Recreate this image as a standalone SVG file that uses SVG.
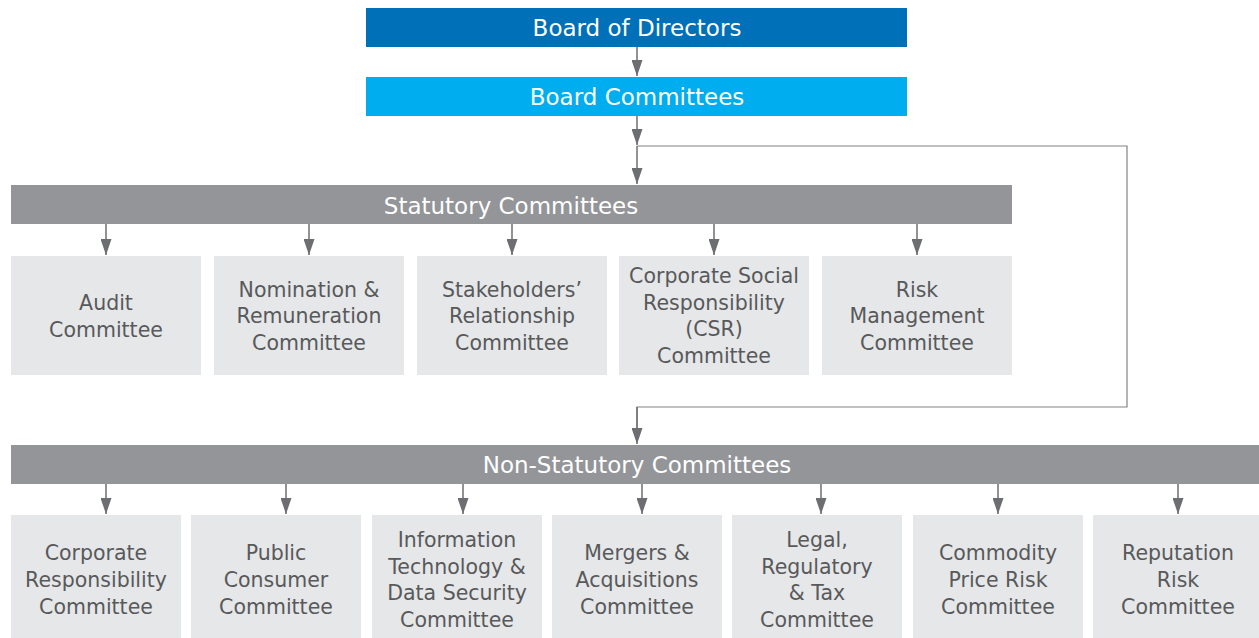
<svg xmlns="http://www.w3.org/2000/svg" width="1259" height="638" viewBox="0 0 1259 638">
<defs>
<marker id="ah" viewBox="0 0 16 11" refX="16" refY="5.5" markerWidth="16" markerHeight="11" markerUnits="userSpaceOnUse" orient="auto">
<path d="M0,0 L16,5.5 L0,11 z" fill="#6d6e71"/>
</marker>
</defs>
<style>
text{font-family:"DejaVu Sans","Liberation Sans",sans-serif;text-anchor:middle}
.t{fill:#ffffff;font-size:23px}
.b{fill:#58595b;font-size:20.5px}
.box{fill:#e6e7e8}
.bar{fill:#939598}
.arr{stroke:#6d6e71;stroke-width:1.5;fill:none;marker-end:url(#ah)}
.ln{stroke:#808285;stroke-width:1.2;fill:none}
</style>
<rect width="1259" height="638" fill="#ffffff"/>
<g id="connectors">
<line class="arr" x1="637" y1="47" x2="637" y2="76"/>
<line class="arr" x1="637" y1="116" x2="637" y2="145"/>
<line class="arr" x1="637" y1="146" x2="637" y2="184"/>
<path class="ln" d="M637,146 H1127 V407 H637 V430"/>
<line class="arr" x1="637" y1="407" x2="637" y2="444"/>
<line class="arr" x1="106" y1="224" x2="106" y2="255"/>
<line class="arr" x1="309" y1="224" x2="309" y2="255"/>
<line class="arr" x1="512" y1="224" x2="512" y2="255"/>
<line class="arr" x1="714" y1="224" x2="714" y2="255"/>
<line class="arr" x1="917" y1="224" x2="917" y2="255"/>
<line class="arr" x1="106" y1="484" x2="106" y2="514"/>
<line class="arr" x1="286" y1="484" x2="286" y2="514"/>
<line class="arr" x1="463" y1="484" x2="463" y2="514"/>
<line class="arr" x1="642" y1="484" x2="642" y2="514"/>
<line class="arr" x1="821" y1="484" x2="821" y2="514"/>
<line class="arr" x1="998" y1="484" x2="998" y2="514"/>
<line class="arr" x1="1178" y1="484" x2="1178" y2="514"/>
</g>
<g id="board">
<rect x="366" y="8" width="541" height="39" fill="#0070b8"/>
<text class="t" x="637" y="36">Board of Directors</text>
</g>
<g id="board-committees">
<rect x="366" y="77" width="541" height="39" fill="#00aeef"/>
<text class="t" x="637" y="105">Board Committees</text>
</g>
<g id="statutory">
<rect class="bar" x="11" y="185" width="1001" height="39"/>
<text class="t" x="511" y="214">Statutory Committees</text>
</g>
<g id="audit">
<rect class="box" x="11" y="256" width="190" height="119"/>
<text class="b" x="106" y="310">Audit</text>
<text class="b" x="106" y="337">Committee</text>
</g>
<g id="nomination">
<rect class="box" x="214" y="256" width="190" height="119"/>
<text class="b" x="309" y="297">Nomination &amp;</text>
<text class="b" x="309" y="323">Remuneration</text>
<text class="b" x="309" y="350">Committee</text>
</g>
<g id="stakeholders">
<rect class="box" x="417" y="256" width="190" height="119"/>
<text class="b" x="512" y="297">Stakeholders’</text>
<text class="b" x="512" y="323">Relationship</text>
<text class="b" x="512" y="350">Committee</text>
</g>
<g id="csr">
<rect class="box" x="619" y="256" width="190" height="119"/>
<text class="b" x="714" y="283">Corporate Social</text>
<text class="b" x="714" y="310">Responsibility</text>
<text class="b" x="714" y="336">(CSR)</text>
<text class="b" x="714" y="363">Committee</text>
</g>
<g id="risk">
<rect class="box" x="822" y="256" width="190" height="119"/>
<text class="b" x="917" y="297">Risk</text>
<text class="b" x="917" y="323">Management</text>
<text class="b" x="917" y="350">Committee</text>
</g>
<g id="non-statutory">
<rect class="bar" x="11" y="445" width="1252" height="39"/>
<text class="t" x="637" y="473">Non-Statutory Committees</text>
</g>
<g id="corporate-responsibility">
<rect class="box" x="11" y="515" width="170" height="123"/>
<text class="b" x="96" y="560">Corporate</text>
<text class="b" x="96" y="587">Responsibility</text>
<text class="b" x="96" y="614">Committee</text>
</g>
<g id="public-consumer">
<rect class="box" x="191" y="515" width="170" height="123"/>
<text class="b" x="276" y="560">Public</text>
<text class="b" x="276" y="587">Consumer</text>
<text class="b" x="276" y="614">Committee</text>
</g>
<g id="it-data">
<rect class="box" x="372" y="515" width="170" height="123"/>
<text class="b" x="457" y="547">Information</text>
<text class="b" x="457" y="574">Technology &amp;</text>
<text class="b" x="457" y="600">Data Security</text>
<text class="b" x="457" y="627">Committee</text>
</g>
<g id="mergers">
<rect class="box" x="552" y="515" width="170" height="123"/>
<text class="b" x="637" y="560">Mergers &amp;</text>
<text class="b" x="637" y="587">Acquisitions</text>
<text class="b" x="637" y="614">Committee</text>
</g>
<g id="legal">
<rect class="box" x="732" y="515" width="170" height="123"/>
<text class="b" x="817" y="547">Legal,</text>
<text class="b" x="817" y="574">Regulatory</text>
<text class="b" x="817" y="600">&amp; Tax</text>
<text class="b" x="817" y="627">Committee</text>
</g>
<g id="commodity">
<rect class="box" x="913" y="515" width="170" height="123"/>
<text class="b" x="998" y="560">Commodity</text>
<text class="b" x="998" y="587">Price Risk</text>
<text class="b" x="998" y="614">Committee</text>
</g>
<g id="reputation">
<rect class="box" x="1093" y="515" width="170" height="123"/>
<text class="b" x="1178" y="560">Reputation</text>
<text class="b" x="1178" y="587">Risk</text>
<text class="b" x="1178" y="614">Committee</text>
</g>
</svg>
